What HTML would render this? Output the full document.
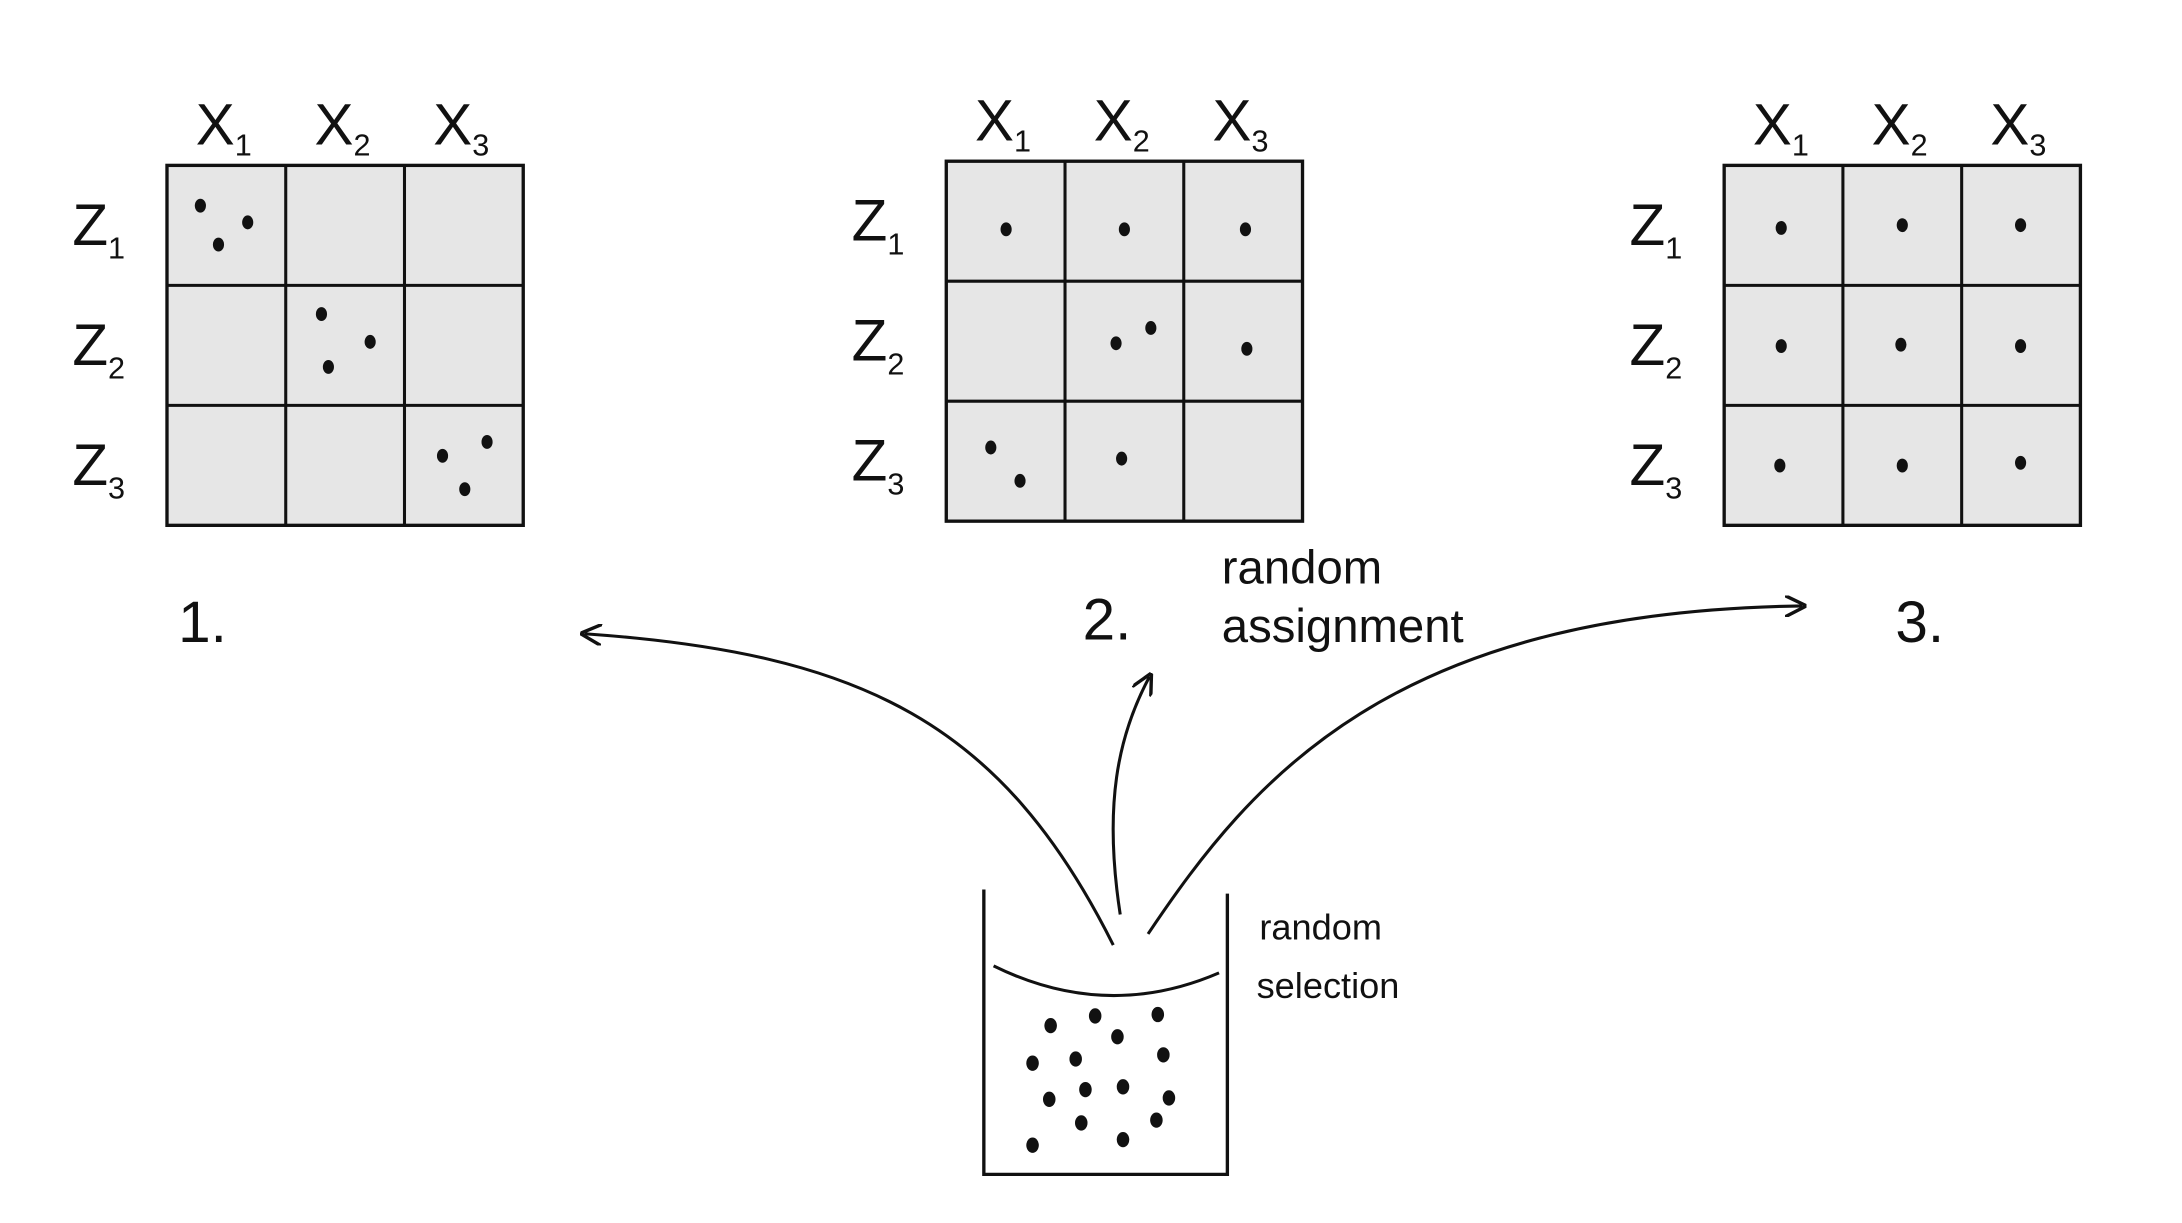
<!DOCTYPE html>
<html><head><meta charset="utf-8"><style>
html,body{margin:0;padding:0;background:#fff;}
svg{display:block;}
text{font-family:"Liberation Sans",sans-serif;fill:#111;}
</style></head><body>
<svg id="s" width="2182" height="1223" viewBox="0 0 1568 880" preserveAspectRatio="none">
<defs><marker id="ah" viewBox="0 0 10 10" refX="8" refY="5" markerWidth="7" markerHeight="7" orient="auto-start-reverse"><path d="M0,0 L10,5 L0,10" fill="none" stroke="#111" stroke-width="1.6"/></marker></defs>
<g id="grids"></g>
<text x="128" y="462" font-size="42">1.</text>
<text x="778" y="460" font-size="42">2.</text>
<text x="1362" y="462" font-size="42">3.</text>
<text x="878" y="420" font-size="34">random</text>
<text x="878" y="462" font-size="34">assignment</text>
<text x="905" y="676" font-size="26">random</text>
<text x="903" y="718" font-size="26">selection</text>
<path d="M800,680 C720,520 620,470 420,456" fill="none" stroke="#111" stroke-width="2.2" marker-end="url(#ah)"/>
<path d="M805,658 C793,580 803,530 826,487" fill="none" stroke="#111" stroke-width="2.2" marker-end="url(#ah)"/>
<path d="M825,672 C900,560 1000,440 1295,436" fill="none" stroke="#111" stroke-width="2.2" marker-end="url(#ah)"/>
<path d="M707,640 L707,845 L882,845 L882,643" fill="none" stroke="#111" stroke-width="2.4"/>
<path d="M714,695 Q795,735 876,700" fill="none" stroke="#111" stroke-width="2.2"/>
<g id="bucketdots"></g>
</svg>
<script>
const colLabels=["1","2","3"];
const rowLabels=["1","2","3"];
const gridX=[120,680,1239];
const gridY=[119,116,119];
const gridDots1=[[144,148],[178,160],[157,176],[231,226],[266,246],[236,264],[350,318],[318,328],[334,352]];
const gridDots2=[[723,165],[808,165],[895,165],[802,247],[827,236],[896,251],[712,322],[733,346],[806,330]];
const gridDots3=[[1280,164],[1367,162],[1452,162],[1280,249],[1366,248],[1452,249],[1279,335],[1367,335],[1452,333]];
const bucketDots=[[755,738],[787,731],[832,730],[803,746],[742,765],[773,762],[836,759],[780,784],[807,782],[754,791],[840,790],[777,808],[831,806],[742,824],[807,820]];
const NS="http://www.w3.org/2000/svg";
const g=document.getElementById('grids');
const allDots=[gridDots1,gridDots2,gridDots3];
const W=256,H=259;
function mk(t,a,parent){const e=document.createElementNS(NS,t);for(const k in a)e.setAttribute(k,a[k]);parent.appendChild(e);return e;}
gridX.forEach((gx,i)=>{
  const gy=gridY[i];
  const grp=mk('g',{},g);
  
  
  mk('rect',{x:gx,y:gy,width:W,height:H,fill:'#e6e6e6',stroke:'#111','stroke-width':2.4},grp);
  for(let k=1;k<3;k++){
    mk('line',{x1:gx+W*k/3,y1:gy,x2:gx+W*k/3,y2:gy+H,stroke:'#111','stroke-width':2.2},grp);
    mk('line',{x1:gx,y1:gy+H*k/3,x2:gx+W,y2:gy+H*k/3,stroke:'#111','stroke-width':2.2},grp);
  }
  colLabels.forEach((c,k)=>{
    const t=mk('text',{x:gx+W*(k+0.5)/3-22,y:gy-15,'font-size':42},grp);
    
    
    t.textContent='X';
    const s=mk('tspan',{'font-size':22,dy:8},t);s.textContent=c;
  });
  rowLabels.forEach((r,k)=>{
    const t=mk('text',{x:gx-68,y:gy+H*(k+0.5)/3+14,'font-size':42},grp);
    
    
    t.textContent='Z';
    const s=mk('tspan',{'font-size':22,dy:10},t);s.textContent=r;
  });
  allDots[i].forEach(d=>{
    const c=mk('ellipse',{cx:d[0],cy:d[1],rx:4,ry:5,fill:'#111'},grp);
    
    
  });
});
const bd=document.getElementById('bucketdots');
bucketDots.forEach(d=>{
  const c=mk('ellipse',{cx:d[0],cy:d[1],rx:4.5,ry:5.5,fill:'#111'},bd);
  
  
});
</script>
</body></html>
